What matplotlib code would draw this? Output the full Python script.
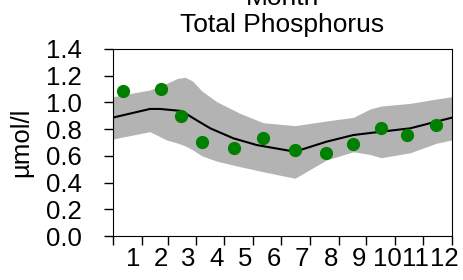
import matplotlib.pyplot as plt
import numpy as np

plt.rcParams['font.family'] = ['Liberation Sans', 'DejaVu Sans']

# month boundaries (day of year)
month_starts = [0, 31, 59, 90, 120, 151, 181, 212, 243, 273, 304, 334, 365]
month_labels = [str(m) for m in range(1, 13)]

# observed monthly means (day of year, umol/l)
obs_day = [11, 52, 74, 96, 131, 162, 196, 230, 259, 289, 317, 348]
obs_val = [1.083, 1.103, 0.898, 0.701, 0.656, 0.733, 0.641, 0.619, 0.686, 0.806, 0.758, 0.828]

# model mean line
line_day = [0, 40, 51, 74, 90, 105, 130, 155, 196, 230, 259, 289, 320, 348, 365]
line_val = [0.886, 0.951, 0.951, 0.936, 0.868, 0.806, 0.731, 0.681, 0.631, 0.706, 0.756,
            0.781, 0.806, 0.856, 0.886]

# model spread band
band_day = [0, 40, 58, 70, 78, 86, 96, 112, 137, 162, 196, 230, 259, 277, 289, 320, 348, 365]
band_hi = [1.043, 1.093, 1.143, 1.180, 1.188, 1.160, 1.085, 1.005, 0.918, 0.848, 0.826, 0.861,
           0.888, 0.951, 0.973, 0.993, 1.025, 1.043]
band_lo = [0.726, 0.781, 0.719, 0.695, 0.675, 0.645, 0.600, 0.560, 0.519, 0.481, 0.432, 0.569,
           0.631, 0.610, 0.586, 0.623, 0.694, 0.719]

fs = 18.5

fig = plt.figure(figsize=(4.63, 2.80), dpi=100)
ax = fig.add_axes([0.2434, 0.1571, 0.7328, 0.668])

ax.fill_between(band_day, band_lo, band_hi, color='#b3b3b3', lw=0)
ax.plot(line_day, line_val, color='black', lw=1.5)
ax.plot(obs_day, obs_val, 'o', color='green', ms=8.5)

ax.set_xlim(0, 365)
ax.set_ylim(0, 1.4)
yt = np.arange(0, 1.41, 0.2)
ax.set_yticks(yt)
ax.set_yticklabels([f'{v:.1f}' for v in yt])
ax.set_xticks(month_starts)
ax.set_xticklabels([])
label_pos = [(a + b) / 2 + 7 for a, b in zip(month_starts[:-1], month_starts[1:])]
ax.set_xticks(label_pos, minor=True)
ax.set_xticklabels(month_labels, minor=True)
ax.tick_params(axis='both', which='major', direction='out', length=6.5, labelsize=fs, width=1)
ax.tick_params(axis='x', which='minor', length=0, labelsize=fs, pad=8)
ax.tick_params(axis='y', pad=16)

fig.text(0.045, 0.491, 'µmol/l', fontsize=fs, rotation=90, ha='center', va='center')
cx = 0.610
fig.text(cx, 0.982, 'Month', fontsize=19, ha='center', va='baseline')
fig.text(cx, 0.887, 'Total Phosphorus', fontsize=19, ha='center', va='baseline')

fig.savefig('out.png', dpi=100)
